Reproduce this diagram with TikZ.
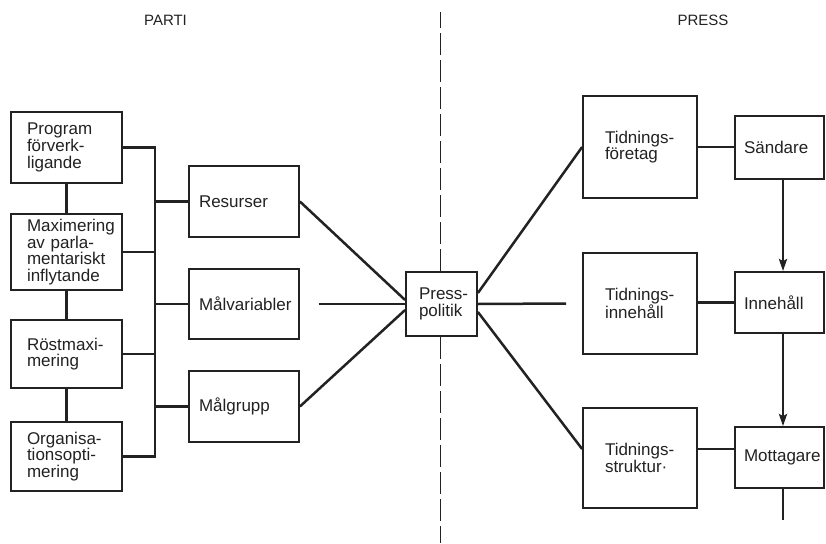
\documentclass[tikz,border=0pt]{standalone}
\usepackage{fontspec}
\setmainfont{Liberation Sans}
\usetikzlibrary{arrows.meta,calc}
\definecolor{ink}{HTML}{222222}
\newcommand\hy{\mbox{-}}
\begin{document}
\begin{tikzpicture}[x=1pt,y=-1pt,
  box/.style={draw=ink, line width=1.8pt, inner ysep=0pt, align=left, text=ink,
    font=\fontsize{17}{16.7}\selectfont},
  lbox/.style={box, minimum width=111pt, text width=79pt, inner xsep=16pt},
  mbox/.style={box, minimum width=110pt, text width=90pt, inner xsep=10pt},
  tbox/.style={box, minimum width=114pt, text width=70pt, inner xsep=22pt},
  sbox/.style={box, minimum width=89pt, text width=71pt, inner xsep=9pt},
  conn/.style={draw=ink, line width=2.5pt},
  dashline/.style={draw=ink, line width=1.8pt, dash pattern=on 22pt off 5pt},
  hdr/.style={text=ink, font=\fontsize{15}{18}\selectfont},
  tip/.style={-{Stealth[length=12pt, width=8pt, inset=2pt]}}
]
\fill[white] (0,0) rectangle (826,543);
\useasboundingbox (0,0) rectangle (826,543);

% headers
\node[hdr] (parti) at (165.5,20) {PARTI};
\node[hdr] (press) at (703,20) {PRESS};

% left column
\node[lbox, minimum height=71pt] (b1) at (66.5,147.5) {Program\\förverk\hy\\ligande};
\node[lbox, minimum height=76pt] (b2) at (66.5,252) {Maximering\\av parla\hy\\mentariskt\\inflytande};
\node[lbox, minimum height=68pt] (b3) at (66.5,354) {Röstmaxi\hy\\mering};
\node[lbox, minimum height=69pt] (b4) at (66.5,456.5) {Organisa\hy\\tionsopti\hy\\mering};

% middle column
\node[mbox, minimum height=71pt] (r1) at (244,201.5) {Resurser};
\node[mbox, minimum height=70pt] (r2) at (244,304) {Målvariabler};
\node[mbox, minimum height=71pt] (r3) at (244,406.5) {Målgrupp};

% centre
\node[box, minimum width=71pt, minimum height=64pt, text width=45pt, inner xsep=13pt] (pp) at (441.5,304) {Press\hy\\politik};

% right columns
\node[tbox, minimum height=102pt] (tf) at (640,147) {Tidnings\hy\\företag};
\node[tbox, minimum height=101pt] (ti) at (640,303.5) {Tidnings\hy\\innehåll};
\node[tbox, minimum height=100pt] (ts) at (640,458) {Tidnings\hy\\struktur·};

\node[sbox, minimum height=63pt] (s) at (779.5,147.5) {Sändare};
\node[sbox, minimum height=61pt] (i) at (779.5,302.5) {Innehåll};
\node[sbox, minimum height=61pt] (m) at (779.5,457.5) {Mottagare};

% dashed divider
\coordinate (dtop) at (440.5,12);
\coordinate (dbot) at (440.5,543);
\draw[dashline] (pp.north -| dtop) -- (dtop);
\draw[dashline] (pp.south -| dbot) -- (dbot);

% left bus
\coordinate (bx) at (155,0);
\draw[conn] (b1) -- (b2);
\draw[conn] (b2) -- (b3);
\draw[conn] (b3) -- (b4);
\draw[conn] (b1.east) -| (b4.east -| bx) -- (b4.east);
\draw[conn] (b2.east) -- (b2.east -| bx);
\draw[conn] (b3.east) -- (b3.east -| bx);
\draw[conn] (r1.west -| bx) -- (r1.west);
\draw[conn] (r2.west -| bx) -- (r2.west);
\draw[conn] (r3.west -| bx) -- (r3.west);

% into press politics
\draw[conn] (r1.east) -- ($(pp.west)+(0,-4)$);
\draw[conn] ($(r2.east)+(19,0)$) -- (pp.west);
\draw[conn] (r3.east) -- ($(pp.west)+(0,6)$);

% out of press politics
\draw[conn] ($(pp.east)+(0,-11)$) -- (tf.west);
\draw[conn] (pp.east) -- ($(ti.west)+(-16,0)$);
\draw[conn] ($(pp.east)+(0,8)$) -- ($(ts.west)+(0,-9)$);

% right links
\draw[conn] (tf.east) -- (tf.east -| s.west);
\draw[conn] (i.west -| ti.east) -- (i.west);
\coordinate (tsm) at ($(ts.east)+(0,-9)$);
\draw[conn] (tsm) -- (tsm -| m.west);

% arrows
\coordinate (ax) at (783,0);
\coordinate (mend) at (783,520);
\draw[conn, tip] (s.south -| ax) -- (i.north -| ax);
\draw[conn, tip] (i.south -| ax) -- (m.north -| ax);
\draw[conn] (m.south -| ax) -- (mend);
\end{tikzpicture}
\end{document}
